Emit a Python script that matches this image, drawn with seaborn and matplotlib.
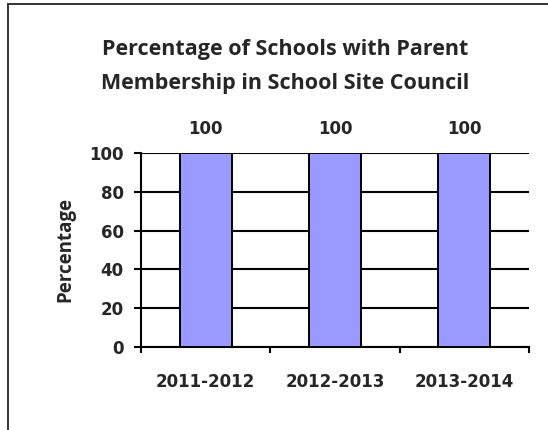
import matplotlib
matplotlib.use("Agg")
import matplotlib.pyplot as plt
import seaborn as sns
import pandas as pd
from matplotlib.patches import Rectangle

years = ["2011-2012", "2012-2013", "2013-2014"]
percentages = [100, 100, 100]
y_ticks = [0, 20, 40, 60, 80, 100]
title_lines = ["Percentage of Schools with Parent",
               "Membership in School Site Council"]

sns.set_style("white")
plt.rcParams["font.family"] = ["Open Sans", "DejaVu Sans"]
plt.rcParams["font.weight"] = "bold"
num_font = ["DejaVu Sans"]

df = pd.DataFrame({"year": years, "pct": percentages})

W, H = 548, 430
fig = plt.figure(figsize=(W / 100, H / 100), dpi=100)
ax = fig.add_axes([141 / W, 1 - 347 / H, (529 - 141) / W, (347 - 153) / H])

# Outer frame around the chart (clipped at right and bottom)
fig.patches.append(Rectangle((8 / W, -0.1), 1.2, 1 - 4 / H + 0.1,
                             transform=fig.transFigure, fill=False,
                             edgecolor="#333333", linewidth=1.4, zorder=0))

sns.barplot(data=df, x="year", y="pct", color="#9999FF", width=0.40,
            edgecolor="black", linewidth=1.4, saturation=1, ax=ax, zorder=3)

ax.set_ylim(0, 100)
ax.set_xlim(-0.5, 2.5)
ax.set_yticks(y_ticks)
ax.yaxis.grid(True, color="black", linewidth=1.5, zorder=0)
ax.set_axisbelow(True)

for s in ["top", "right"]:
    ax.spines[s].set_visible(False)
for s in ["left", "bottom"]:
    ax.spines[s].set_color("black")
    ax.spines[s].set_linewidth(1.5)

ax.tick_params(axis="y", direction="out", length=5, width=1.5, color="black",
               left=True, labelsize=12, pad=7.5)
ax.tick_params(axis="x", which="major", length=0, labelsize=12, pad=18.5)
ax.set_xticks([-0.5, 0.5, 1.5, 2.5], minor=True)
ax.tick_params(axis="x", which="minor", direction="out", length=4.5, width=1.5,
               color="black", bottom=True)
for lab in ax.get_xticklabels() + ax.get_yticklabels():
    lab.set_fontweight("bold")
    lab.set_family(num_font)

ax.set_xlabel("")
ax.set_ylabel("")
fig.text(65 / W, 1 - 250 / H, "Percentage", rotation=90, ha="center",
         va="center", fontsize=13.5, fontweight="bold")

for i, v in enumerate(percentages):
    ax.annotate(f"{v}", (i, v), xytext=(0, 13.7), textcoords="offset points",
                ha="center", va="baseline", fontsize=12, fontweight="bold",
                family=num_font)

for line, base in zip(title_lines, [55, 89]):
    fig.text(285 / W, 1 - base / H, line, ha="center", va="baseline",
             fontsize=15.5, fontweight="bold")

fig.savefig("out.png", dpi=100)
